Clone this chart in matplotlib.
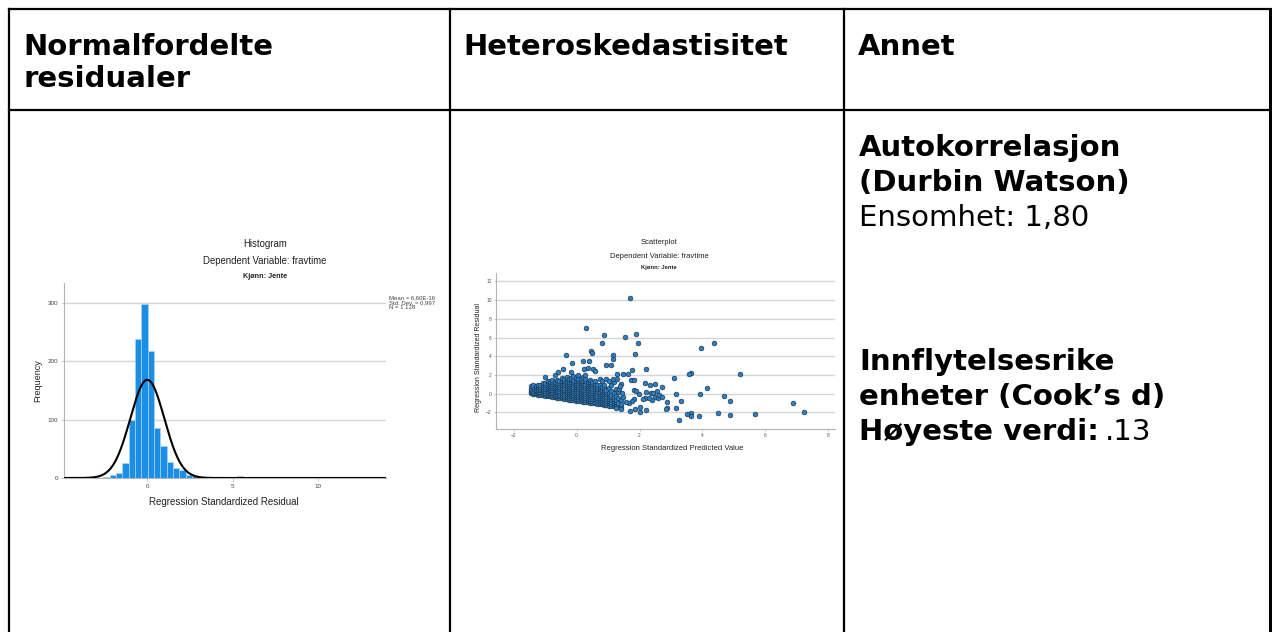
import numpy as np
import matplotlib
matplotlib.use("Agg")
import matplotlib.pyplot as plt

# ---- table text ----
headers = [["Normalfordelte", "residualer"], ["Heteroskedastisitet"], ["Annet"]]
dw_title = ["Autokorrelasjon", "(Durbin Watson)"]
dw_value = "Ensomhet: 1,80"
cook_title = ["Innflytelsesrike", "enheter (Cook\u2019s d)"]
cook_label = "H\u00f8yeste verdi:"
cook_value = ".13"

# ---- histogram of standardized residuals ----
hist_bin_start = -2.584
hist_bin_width = 0.372
hist_counts = [2, 5, 8, 26, 100, 238, 298, 217, 86, 54, 28, 17, 13, 5, 3, 2, 2,
               1, 1, 1, 0, 3, 0, 2, 1, 1, 0, 0, 0, 0, 0, 0, 0, 0, 0, 1]
res_mean = 6.60e-16
res_sd = 0.997
res_n = 1128

# ---- scatter: predicted vs residual ----
# dense part of the cloud, one column of residuals per predicted value
wedge_x = [-1.45, -1.38, -1.3, -1.22, -1.15, -1.07, -1.0, -0.92, -0.85, -0.77,
           -0.7, -0.62, -0.55, -0.47, -0.4, -0.32, -0.25, -0.17, -0.1, -0.02,
           0.05, 0.13, 0.2, 0.28, 0.35, 0.43, 0.5, 0.58, 0.65, 0.73,
           0.8, 0.88, 0.95, 1.03, 1.1, 1.18, 1.25, 1.33, 1.4]
wedge_y = [
    [0.02, 0.18, 0.35, 0.55, 0.78],
    [-0.02, 0.12, 0.3, 0.5, 0.72, 0.88],
    [-0.06, 0.1, 0.26, 0.44, 0.62, 0.85],
    [-0.1, 0.05, 0.22, 0.4, 0.58, 0.8, 0.95],
    [-0.14, 0.02, 0.2, 0.38, 0.55, 0.74, 0.92],
    [-0.18, -0.02, 0.16, 0.34, 0.52, 0.7, 0.9, 1.12],
    [-0.22, -0.05, 0.12, 0.3, 0.5, 0.68, 0.88, 1.1, 1.82],
    [-0.27, -0.1, 0.08, 0.26, 0.45, 0.64, 0.85, 1.05, 1.3],
    [-0.3, -0.12, 0.05, 0.24, 0.42, 0.6, 0.82, 1.0, 1.25],
    [-0.35, -0.17, 0.02, 0.2, 0.4, 0.58, 0.8, 1.02, 1.22, 1.5],
    [-0.39, -0.2, -0.02, 0.18, 0.36, 0.56, 0.76, 0.98, 1.2, 2.0],
    [-0.43, -0.25, -0.06, 0.14, 0.33, 0.52, 0.74, 0.95, 1.18, 1.42],
    [-0.47, -0.28, -0.1, 0.1, 0.3, 0.5, 0.7, 0.92, 1.15, 1.38],
    [-0.51, -0.32, -0.13, 0.07, 0.27, 0.47, 0.68, 0.9, 1.12, 1.35, 1.62],
    [-0.55, -0.36, -0.16, 0.04, 0.24, 0.44, 0.65, 0.88, 1.1, 1.3, 1.58],
    [-0.59, -0.4, -0.2, 0.0, 0.2, 0.42, 0.62, 0.85, 1.05, 1.28, 1.55, 1.8],
    [-0.63, -0.43, -0.23, -0.03, 0.18, 0.38, 0.6, 0.82, 1.02, 1.25, 1.52],
    [-0.67, -0.47, -0.27, -0.06, 0.15, 0.35, 0.58, 0.8, 1.0, 1.22, 1.48, 1.7, 2.3],
    [-0.7, -0.5, -0.3, -0.1, 0.12, 0.32, 0.55, 0.76, 0.98, 1.2, 1.45, 1.9],
    [-0.74, -0.54, -0.33, -0.12, 0.1, 0.3, 0.52, 0.74, 0.96, 1.18, 1.4, 1.65],
    [-0.78, -0.58, -0.37, -0.15, 0.06, 0.28, 0.5, 0.72, 0.94, 1.15, 1.38, 1.6, 1.95],
    [-0.82, -0.62, -0.4, -0.18, 0.04, 0.25, 0.47, 0.7, 0.92, 1.12, 1.35, 1.58],
    [-0.86, -0.65, -0.44, -0.22, 0.0, 0.22, 0.44, 0.66, 0.9, 1.1, 1.32, 1.8],
    [-0.9, -0.69, -0.47, -0.25, -0.03, 0.2, 0.42, 0.64, 0.86, 1.08, 1.3, 1.55, 1.95],
    [-0.93, -0.72, -0.5, -0.28, -0.06, 0.16, 0.38, 0.6, 0.84, 1.05, 1.28],
    [-0.97, -0.76, -0.54, -0.32, -0.1, 0.12, 0.35, 0.58, 0.8, 1.02, 1.25, 1.5],
    [-1.0, -0.8, -0.58, -0.35, -0.13, 0.1, 0.32, 0.55, 0.78, 1.0, 1.22],
    [-1.05, -0.84, -0.62, -0.38, -0.15, 0.08, 0.3, 0.52, 0.75, 0.98, 1.3],
    [-1.08, -0.87, -0.65, -0.42, -0.2, 0.04, 0.26, 0.5, 0.72, 0.95],
    [-1.12, -0.9, -0.68, -0.45, -0.22, 0.0, 0.22, 0.46, 0.7, 0.92, 1.6],
    [-1.16, -0.94, -0.72, -0.48, -0.25, -0.02, 0.2, 0.44, 0.68, 1.4],
    [-1.2, -0.98, -0.75, -0.52, -0.28, -0.05, 0.18, 0.42, 0.65, 0.9],
    [-1.23, -1.0, -0.78, -0.55, -0.32, -0.08, 0.15, 0.4, 1.55],
    [-1.27, -1.05, -0.82, -0.58, -0.35, -0.1, 0.12, 0.6],
    [-1.3, -1.08, -0.85, -0.6, -0.38, -0.15, 0.3, 0.9],
    [-1.35, -1.1, -0.88, -0.62, -0.4, 0.05, 1.2],
    [-1.38, -1.15, -0.9, -0.66, -0.2, 0.45],
    [-1.42, -1.2, -0.95, -0.5, 0.2],
    [-1.45, -1.1, -0.7, 1.0],
]

# scattered points outside the dense part
spread_x = [1.69, 0.31, 0.88, 1.53, 1.89, 1.96, 0.81, 4.37, 3.96, 0.46, 0.48, 1.87,
            -0.35, 1.16, 1.15, -0.14, 0.21, 0.39, 0.92, 1.08, -0.44, 0.23, 0.35, 0.52,
            0.59, 1.77, 2.22, -0.58, 5.2, 3.64, 3.57, 3.1, 1.62, 1.49, 1.3, 1.72,
            1.81, 2.16, 2.32, 2.48, 2.71, 4.14, 3.16, 3.93, 4.67, 4.87, 3.32, 2.87,
            6.86, 3.16, 2.86, 2.83, 7.21, 5.67, 4.5, 4.87, 3.9, 3.64, 3.65, 3.5,
            3.26, 2.02, 1.69, 2.19, 1.86, 1.41, 1.25, 2.03, 2.48, 2.6, 2.4, 2.29,
            2.16, 2.1, 2.2, 2.35, 2.44, 2.55, 2.63, 2.7, 1.81, 1.9, 1.98, 1.82,
            1.75, 1.66, 1.57, 1.49, 1.45, 1.34, 1.39, 1.28, 1.15, 1.03]
spread_y = [10.25, 7.07, 6.32, 6.04, 6.43, 5.43, 5.43, 5.39, 4.86, 4.61, 4.32, 4.25,
            4.14, 4.11, 3.68, 3.32, 3.54, 3.46, 3.1, 3.1, 2.64, 2.68, 2.75, 2.68,
            2.46, 2.54, 2.61, 2.36, 2.14, 2.18, 2.11, 1.64, 2.11, 2.11, 2.11, 1.46,
            1.46, 1.18, 0.93, 1.04, 0.68, 0.64, 0.0, 0.0, -0.21, -0.75, -0.82, -0.89,
            -1.0, -1.54, -1.54, -1.68, -2.0, -2.14, -2.04, -2.25, -2.36, -2.07, -2.39, -2.14,
            -2.79, -2.0, -1.86, -1.75, -1.64, -1.61, -1.57, -1.43, -0.32, -0.5, -0.68, -0.5,
            -0.43, -0.61, 0.21, 0.11, 0.04, 0.29, -0.11, -0.32, 0.43, 0.25, -0.04, -0.61,
            -0.82, -1.04, -0.93, -0.32, 0.11, 0.54, 0.86, 1.54, 1.61, 1.39]

W, H = 1272, 632
fig = plt.figure(figsize=(W / 100, H / 100), dpi=100)

# background axes in pixel units for the table
bg = fig.add_axes([0, 0, 1, 1])
bg.set_xlim(0, W)
bg.set_ylim(H, 0)
bg.axis("off")

lw = 1.6
bg.plot([9, 1270], [9, 9], color="black", lw=lw)
bg.plot([9, 1270], [110, 110], color="black", lw=lw)
bg.plot([9, 9], [9, H], color="black", lw=lw)
bg.plot([450, 450], [9, H], color="black", lw=lw)
bg.plot([844, 844], [9, H], color="black", lw=lw)
bg.plot([1270, 1270], [9, H], color="black", lw=2.2)

tfont = "DejaVu Sans"
tsize = 21


def cell_lines(x, y0, lines, weight="bold", step=35):
    for i, line in enumerate(lines):
        bg.text(x, y0 + i * step, line, fontsize=tsize, fontweight=weight,
                family=tfont, va="baseline")


cell_lines(23, 55, headers[0], step=32)
cell_lines(463, 55, headers[1])
cell_lines(858, 55, headers[2])

cell_lines(859, 156, dw_title)
cell_lines(859, 226, [dw_value], weight="normal")
cell_lines(859, 370, cook_title)
lab = bg.text(859, 440, cook_label, fontsize=tsize, fontweight="bold", family=tfont, va="baseline")
fig.canvas.draw()
bb = lab.get_window_extent()
x_end = bg.transData.inverted().transform((bb.x1, bb.y0))[0]
bg.text(x_end + 6, 440, cook_value, fontsize=tsize, family=tfont, va="baseline")


def px_axes(left, top, right, bottom):
    return fig.add_axes([left / W, 1 - bottom / H, (right - left) / W, (bottom - top) / H])


cfont = "Liberation Sans"
grid_c = "#d6d6d6"
spine_c = "#b4b4b4"
lab_c = "#222222"

# ---- histogram ----
ah = px_axes(64, 283, 386, 478)
lefts = [hist_bin_start + i * hist_bin_width for i in range(len(hist_counts))]
ah.bar(lefts, hist_counts, width=hist_bin_width, align="edge",
       color="#1b8fe6", edgecolor="#a8d4f6", linewidth=0.5, zorder=2)
xs = np.linspace(-4.9, 14.0, 600)
curve = res_n * hist_bin_width * np.exp(-0.5 * ((xs - res_mean) / res_sd) ** 2) / (res_sd * np.sqrt(2 * np.pi))
ah.plot(xs, curve, color="black", lw=1.5, zorder=3)
ah.set_xlim(-4.88, 13.98)
ah.set_ylim(0, 333.5)
ah.set_yticks([0, 100, 200, 300])
ah.set_xticks([0, 5, 10])
ah.yaxis.grid(True, color=grid_c, lw=1)
ah.set_axisbelow(True)
for s in ["top", "right"]:
    ah.spines[s].set_visible(False)
for s in ["left", "bottom"]:
    ah.spines[s].set_color(spine_c)
    ah.spines[s].set_linewidth(0.8)
ah.tick_params(length=2, width=0.5, color=spine_c, labelsize=4.5, labelcolor="#444444", pad=2)
for t in ah.get_xticklabels() + ah.get_yticklabels():
    t.set_family(cfont)

bg.text(265, 244, "Histogram", fontsize=6.9, family=cfont, color=lab_c, ha="center", va="center")
bg.text(265, 261, "Dependent Variable: fravtime", fontsize=6.9, family=cfont, color=lab_c,
        ha="center", va="center")
bg.text(265, 277, "Kj\u00f8nn: Jente", fontsize=5.2, family=cfont, fontweight="bold", color=lab_c,
        ha="center", va="center")
bg.text(224, 502, "Regression Standardized Residual", fontsize=7, family=cfont, color=lab_c,
        ha="center", va="center")
bg.text(38, 381, "Frequency", fontsize=6.5, family=cfont, color=lab_c, rotation=90,
        ha="center", va="center")
stats = "Mean = 6,60E-16\nStd. Dev. = 0,997\nN = 1 128"
bg.text(389, 295, stats, fontsize=4.3, family=cfont, color="#444444", ha="left", va="top",
        linespacing=1.05)

# ---- scatterplot ----
asc = px_axes(496, 273, 835, 429)
sx = [x for x, col in zip(wedge_x, wedge_y) for _ in col] + spread_x
sy = [y for col in wedge_y for y in col] + spread_y
asc.scatter(sx, sy, s=12, facecolor="#2a7fc4", edgecolor="#1c2836", linewidth=0.4, zorder=3)
asc.set_xlim(-2.56, 8.21)
asc.set_ylim(-3.78, 12.9)
asc.set_xticks([-2, 0, 2, 4, 6, 8])
asc.set_yticks([-2, 0, 2, 4, 6, 8, 10, 12])
asc.yaxis.grid(True, color=grid_c, lw=1)
asc.set_axisbelow(True)
for s in ["top", "right"]:
    asc.spines[s].set_visible(False)
for s in ["left", "bottom"]:
    asc.spines[s].set_color(spine_c)
    asc.spines[s].set_linewidth(0.8)
asc.tick_params(length=1.5, width=0.5, color=spine_c, labelsize=3.5, labelcolor="#555555", pad=1.5)
for t in asc.get_xticklabels() + asc.get_yticklabels():
    t.set_family(cfont)

bg.text(659, 243, "Scatterplot", fontsize=5.5, family=cfont, color=lab_c, ha="center", va="center")
bg.text(659, 256, "Dependent Variable: fravtime", fontsize=5.5, family=cfont, color=lab_c,
        ha="center", va="center")
bg.text(659, 268, "Kj\u00f8nn: Jente", fontsize=4.2, family=cfont, fontweight="bold", color=lab_c,
        ha="center", va="center")
bg.text(672, 448, "Regression Standardized Predicted Value", fontsize=5.5, family=cfont,
        color=lab_c, ha="center", va="center")
bg.text(478, 358, "Regression Standardized Residual", fontsize=5, family=cfont, color=lab_c,
        rotation=90, ha="center", va="center")

fig.savefig("out.png", dpi=100)
